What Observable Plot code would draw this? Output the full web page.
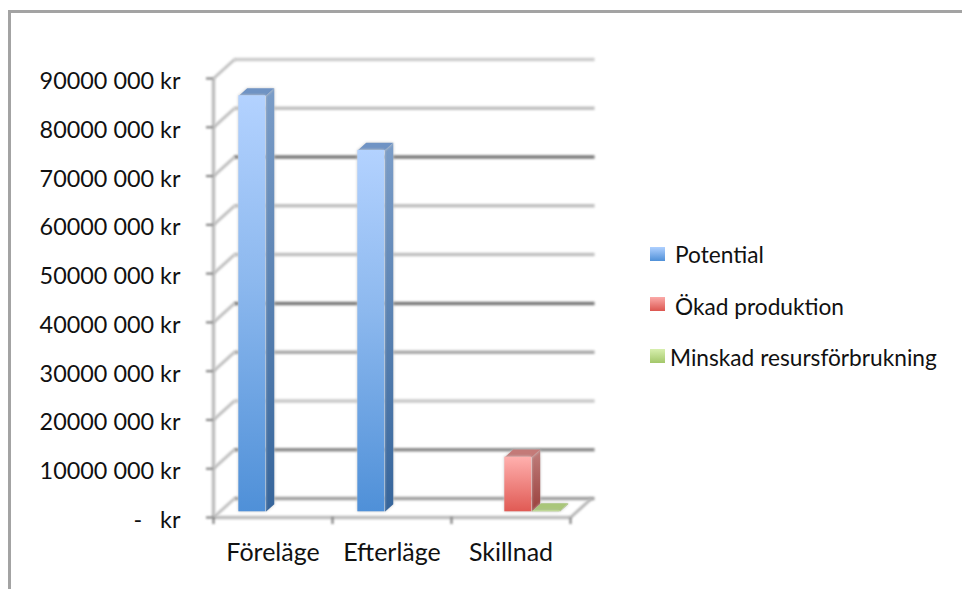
<!DOCTYPE html>
<html><head><meta charset="utf-8">
<script src="https://cdn.jsdelivr.net/npm/d3@7"></script>
<script src="https://cdn.jsdelivr.net/npm/@observablehq/plot@0.6"></script>
<style>
html,body{margin:0;padding:0;background:#fff;width:962px;height:589px;overflow:hidden}
#frame{position:absolute;left:8px;top:10px;width:970px;height:600px;border:3px solid #a3a3a3;box-sizing:border-box}
#chart{position:absolute;left:0;top:0}
#legend{position:absolute;left:0;top:0;font:22.7px Lato,sans-serif;color:#111}
#legend div{position:absolute;white-space:nowrap;line-height:26px}
#legend i{position:absolute;display:block;width:15px;height:14px}
</style></head><body>
<div id="frame"></div>
<div id="chart"></div>
<div id="legend"></div>
<script>
const categories = ["Föreläge","Efterläge","Skillnad"];
const seriesNames = ["Potential","Ökad produktion","Minskad resursförbrukning"];
const potential = [85300000, 74100000, 0];
const okadProduktion = [0, 0, 11200000];
const minskadResurs = [0, 0, 200000];
const valueTicks = [0,10000000,20000000,30000000,40000000,50000000,60000000,70000000,80000000,90000000];
const tickLabels = ["-   kr","10000 000 kr","20000 000 kr","30000 000 kr","40000 000 kr","50000 000 kr","60000 000 kr","70000 000 kr","80000 000 kr","90000 000 kr"];

const gridShade = ["#a0a0a0","#8c8c8c","#c8c8c8","#aaaaaa","#7a7a7a","#c0c0c0","#c0c0c0","#7a7a7a","#c0c0c0","#cccccc"];
const DX = 21/119, DY = 19/48.8*10000000;   // depth of the floor in data units
const pr = (x,v,d) => ({x:x+d*DX, y:v+d*DY});
const D0=.3, D1=.7, BW=.227;
const all = [potential,okadProduktion,minskadResurs];
const palette = [
  {front:"url(#gB)",side:"url(#sB)",top:"#6f93c4"},
  {front:"url(#gR)",side:"url(#sR)",top:"#c47a78"},
  {front:"url(#gG)",side:"#9fbc6c",top:"#a9c67a"}];
const bars = [];
all.forEach((vals,s)=>vals.forEach((v,c)=>{ if(v>0) bars.push({l:c+.16+s*.235,v,s}); }));
const blur = "blur(0.8px)";
const marks = [];
// back wall grid
marks.push(Plot.ruleY(valueTicks,{x1:DX,x2:3+DX+.03,y:d=>d+DY,stroke:d=>gridShade[valueTicks.indexOf(d)],strokeWidth:3.5,imageFilter:blur}));
// side wall diagonals
marks.push(Plot.link(valueTicks,{x1:0,y1:d=>d,x2:DX,y2:d=>d+DY,stroke:"#c0c0c0",strokeWidth:3,imageFilter:blur}));
// floor right edge
marks.push(Plot.link([0],{x1:3,y1:0,x2:3+DX,y2:DY,stroke:"#b5b5b5",strokeWidth:3,imageFilter:blur}));
// bars
const barShadow = "blur(0.6px) drop-shadow(0 0 1.5px #c8c8c8)";
for(const b of bars){
  const p=palette[b.s], r=b.l+BW;
  const side=[pr(r,0,D0),pr(r,0,D1),pr(r,b.v,D1),pr(r,b.v,D0)];
  const top=[pr(b.l,b.v,D0),pr(r,b.v,D0),pr(r,b.v,D1),pr(b.l,b.v,D1)];
  const a=pr(b.l,0,D0), c=pr(r,b.v,D0);
  marks.push(Plot.line(side,{x:"x",y:"y",fill:p.side,stroke:"none",imageFilter:barShadow}));
  marks.push(Plot.line(top,{x:"x",y:"y",fill:p.top,stroke:"none",imageFilter:barShadow}));
  marks.push(Plot.rect([0],{x1:a.x,x2:c.x,y1:a.y,y2:c.y,fill:p.front,imageFilter:barShadow}));
}
// axes lines
marks.push(Plot.ruleY([0],{x1:0,x2:3,stroke:"#bdbdbd",strokeWidth:3.5,imageFilter:blur}));
marks.push(Plot.ruleX([0],{y1:0,y2:90000000,stroke:"#bdbdbd",strokeWidth:3.5,imageFilter:blur}));
marks.push(Plot.axisY(valueTicks,{anchor:"left",text:null,label:null,tickSize:7,stroke:"#777",strokeWidth:2,imageFilter:blur}));
marks.push(Plot.axisX([0,1,2,3],{anchor:"bottom",text:null,label:null,tickSize:7,stroke:"#777",strokeWidth:2,imageFilter:blur}));
marks.push(Plot.axisY(valueTicks,{anchor:"left",tickSize:0,tickPadding:33,dy:3,label:null,fontSize:23.4,fill:"#111",
  tickFormat:d=>tickLabels[valueTicks.indexOf(d)]}));
marks.push(Plot.axisX([.5,1.5,2.5],{anchor:"bottom",tickSize:0,tickPadding:26,dx:0,label:null,fontSize:25,fill:"#111",
  tickFormat:d=>categories[d-.5]}));

const chart = Plot.plot({
  width:962,height:589,marginLeft:213,marginTop:78,marginRight:392,marginBottom:72,
  style:{background:"transparent",fontFamily:"Lato, sans-serif"},
  x:{type:"linear",domain:[0,3]},
  y:{type:"linear",domain:[0,90000000]},
  marks
});
const defs = `<defs>
<linearGradient id="gB" x1="0" y1="0" x2="0" y2="1"><stop offset="0" stop-color="#b3d2ff"/><stop offset=".45" stop-color="#8cb8ee"/><stop offset="1" stop-color="#4f90d8"/></linearGradient>
<linearGradient id="sB" x1="0" y1="0" x2="0" y2="1"><stop offset="0" stop-color="#7b9dc8"/><stop offset="1" stop-color="#36659b"/></linearGradient>
<linearGradient id="gR" x1="0" y1="0" x2="0" y2="1"><stop offset="0" stop-color="#ffb0ae"/><stop offset="1" stop-color="#e05a54"/></linearGradient>
<linearGradient id="sR" x1="0" y1="0" x2="0" y2="1"><stop offset="0" stop-color="#c07f7d"/><stop offset="1" stop-color="#9a3f3b"/></linearGradient>
<linearGradient id="gG" x1="0" y1="0" x2="0" y2="1"><stop offset="0" stop-color="#c5e09a"/><stop offset="1" stop-color="#a3c76a"/></linearGradient>
</defs>`;
chart.insertAdjacentHTML("afterbegin",defs);
document.getElementById("chart").append(chart);

const legendCss = [
 {sw:"linear-gradient(#afd0ff,#4f90d8)",textX:675,swY:247,textY:242},
 {sw:"linear-gradient(#fbaaa8,#dc5650)",textX:675,swY:297,textY:294},
 {sw:"linear-gradient(#d7efae,#a3c76a)",textX:670,swY:349,textY:345}];
const lg=document.getElementById("legend");
seriesNames.forEach((n,i)=>{
  const c=legendCss[i];
  const sw=document.createElement("i");
  sw.style.cssText=`left:650px;top:${c.swY}px;background:${c.sw}`;
  const t=document.createElement("div");
  t.textContent=n;t.style.left=c.textX+"px";t.style.top=c.textY+"px";
  lg.append(sw,t);
});
</script></body></html>
